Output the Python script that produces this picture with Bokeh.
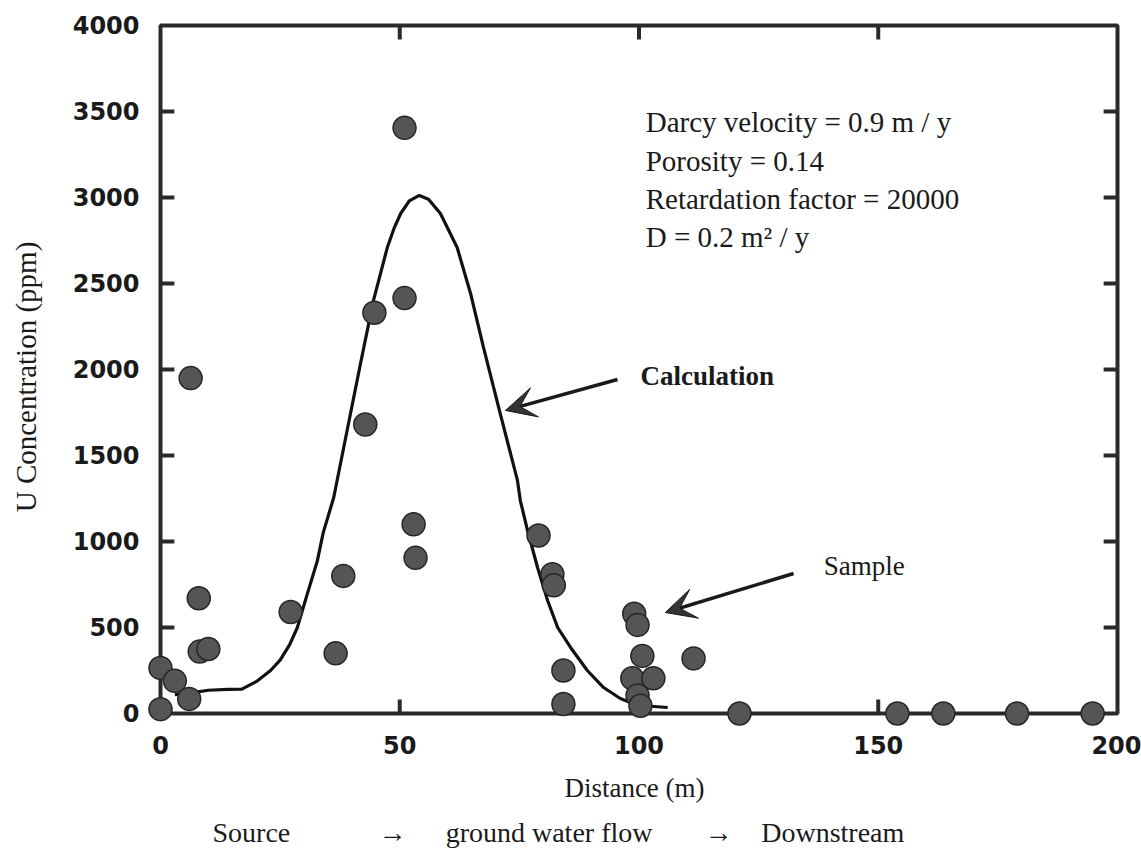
from bokeh.plotting import figure
from bokeh.models import (Range1d, FixedTicker, Label, Arrow, VeeHead, ColumnDataSource,
                          LinearAxis)
from bokeh.embed import file_html
from bokeh.resources import INLINE

# ---------------- data ----------------
x_ticks = [0, 50, 100, 150, 200]
y_ticks = [0, 500, 1000, 1500, 2000, 2500, 3000, 3500, 4000]

sample_distance = [0, 0, 3, 6, 6.3, 8, 8.2, 10, 27.2, 36.6, 38.2, 42.8, 44.7, 51, 51,
                   52.9, 53.3, 79, 81.9, 82.2, 84.2, 84.2, 99, 99.7, 100.7, 98.6, 103,
                   99.7, 100.3, 111.4, 121, 154, 163.6, 179, 194.8]
sample_conc = [265, 25, 190, 85, 1950, 670, 360, 375, 590, 350, 800, 1680, 2330, 2415, 3405,
               1100, 905, 1035, 810, 745, 250, 55, 580, 515, 335, 205, 205,
               105, 45, 320, 0, 0, 0, 0, 0]

calc_distance = [3, 6, 10, 14, 17, 20, 23, 25, 27, 28.6, 30.7, 32.8, 34, 36.2, 39, 41.8,
                 44.5, 46, 47.4, 48.8, 50.2, 52, 54.1, 56, 58.5, 62, 64.8, 67.5, 71, 74.6,
                 75.2, 76.7, 78.8, 80.9, 83, 85.7, 89.2, 92.6, 96.1, 98.2, 101, 106]
calc_conc = [110, 118, 135, 140, 142, 185, 250, 310, 400, 500, 697, 890, 1050, 1256, 1645,
             2035, 2400, 2560, 2709, 2820, 2907, 2980, 3012, 2990, 2907, 2709, 2442, 2128,
             1744, 1355, 1238, 1064, 849, 657, 500, 384, 250, 151, 87, 64, 45, 35]

params = ["Darcy velocity = 0.9 m / y",
          "Porosity = 0.14",
          "Retardation factor = 20000",
          "D = 0.2 m\u00b2 / y"]

flow_labels = ["Source", "\u2192", "ground water flow", "\u2192", "Downstream"]

# ---------------- figure ----------------
SERIF = "Liberation Serif"
INK = "#1a1a1a"
AX = "#2a2a2a"

p = figure(width=1141, height=855, output_backend="svg", toolbar_location=None,
           x_range=Range1d(-3.97, 202.09), y_range=Range1d(-116.3, 4029),
           min_border_left=141, min_border_right=14, min_border_top=20,
           min_border_bottom=122)
p.outline_line_color = None
p.grid.visible = False
p.background_fill_color = "white"
p.border_fill_color = "white"


def style_axis(ax):
    ax.axis_line_color = None
    ax.major_tick_line_color = None
    ax.minor_tick_line_color = None
    ax.major_tick_out = 0
    ax.major_tick_in = 0
    ax.major_label_text_font = "DejaVu Sans"
    ax.major_label_text_font_style = "bold"
    ax.major_label_text_font_size = "24px"
    ax.major_label_text_color = INK
    ax.axis_label_text_font = SERIF
    ax.axis_label_text_font_style = "normal"
    ax.axis_label_text_color = INK


for ax in (p.xaxis[0], p.yaxis[0]):
    style_axis(ax)

p.xaxis.ticker = FixedTicker(ticks=x_ticks)
p.yaxis.ticker = FixedTicker(ticks=y_ticks)
p.xaxis.axis_label = "Distance (m)"
p.yaxis.axis_label = "U Concentration (ppm)"
p.xaxis.axis_label_text_font_size = "27px"
p.yaxis.axis_label_text_font_size = "29px"
p.xaxis.major_label_standoff = 2
p.yaxis.major_label_standoff = 2
p.xaxis.axis_label_standoff = 16
p.yaxis.axis_label_standoff = 28

# second, label-only axis carrying the flow-direction line
flow_pos = [19.0, 48.5, 81.2, 116.6, 140.5]
flow_axis = LinearAxis(ticker=FixedTicker(ticks=flow_pos),
                       major_label_overrides={pos: lab for pos, lab in zip(flow_pos, flow_labels)})
style_axis(flow_axis)
flow_axis.major_label_text_font = SERIF
flow_axis.major_label_text_font_style = "normal"
flow_axis.major_label_text_font_size = "28px"
flow_axis.major_label_standoff = 11
p.add_layout(flow_axis, "below")

# plot box
x0, x1 = x_ticks[0], x_ticks[-1]
y0, y1 = y_ticks[0], y_ticks[-1]
p.quad(left=[x0], right=[x1], bottom=[y0], top=[y1], fill_alpha=0,
       line_color=AX, line_width=4)

# inward ticks
tlx = 2.9
tly = 81
inner_x = x_ticks[1:-1]
inner_y = y_ticks[1:-1]
p.segment(x0=[x0] * len(inner_y), x1=[x0 + tlx] * len(inner_y), y0=inner_y, y1=inner_y,
          line_color=AX, line_width=4)
p.segment(x0=[x1] * len(inner_y), x1=[x1 - tlx] * len(inner_y), y0=inner_y, y1=inner_y,
          line_color=AX, line_width=4)
p.segment(x0=inner_x, x1=inner_x, y0=[y0] * len(inner_x), y1=[y0 + tly] * len(inner_x),
          line_color=AX, line_width=4)
p.segment(x0=inner_x, x1=inner_x, y0=[y1] * len(inner_x), y1=[y1 - tly] * len(inner_x),
          line_color=AX, line_width=4)

# calculation curve
p.line(calc_distance, calc_conc, line_color="#111111", line_width=3.2)

# samples
src = ColumnDataSource(dict(x=sample_distance, y=sample_conc))
p.scatter("x", "y", source=src, size=23, fill_color="#555555", line_color="#262626",
          line_width=1.5)

# parameter text
for i, t in enumerate(params):
    p.add_layout(Label(x=101.4, y=3436 - i * 221, text=t, text_font=SERIF,
                       text_font_size="29px", text_color=INK, text_baseline="middle",
                       text_align="left"))

# annotations with arrows
p.add_layout(Label(x=100.3, y=1965, text="Calculation", text_font=SERIF,
                   text_font_size="27px", text_font_style="bold", text_color=INK,
                   text_baseline="middle", text_align="left"))
p.add_layout(Arrow(x_start=95.5, y_start=1942, x_end=72.1, y_end=1762,
                   line_color=INK, line_width=3.5,
                   end=VeeHead(size=30, fill_color="#333333", line_color=INK, line_width=1)))
p.add_layout(Label(x=138.6, y=855, text="Sample", text_font=SERIF,
                   text_font_size="27px", text_color=INK,
                   text_baseline="middle", text_align="left"))
p.add_layout(Arrow(x_start=132.3, y_start=814, x_end=105.5, y_end=587,
                   line_color=INK, line_width=3.5,
                   end=VeeHead(size=30, fill_color="#333333", line_color=INK, line_width=1)))

open("out.html", "w").write(file_html(p, INLINE))
